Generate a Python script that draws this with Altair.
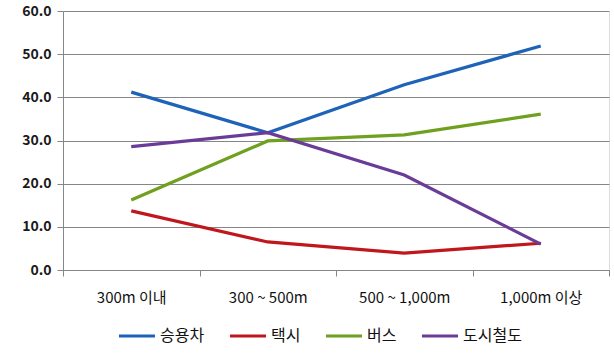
import altair as alt
import pandas as pd

categories = ["300m 이내", "300 ~ 500m", "500 ~ 1,000m", "1,000m 이상"]
series = ["승용차", "택시", "버스", "도시철도"]
car = [41.2, 31.8, 42.9, 51.9]
taxi = [13.7, 6.5, 3.9, 6.2]
bus = [16.2, 29.9, 31.3, 36.1]
rail = [28.6, 31.8, 22.0, 6.0]
colors = ["#1F63B8", "#C0171D", "#6FA01F", "#6A3C98"]

rows = []
for name, vals in zip(series, [car, taxi, bus, rail]):
    for c, v in zip(categories, vals):
        rows.append({"구간": c, "수단": name, "값": v})
df = pd.DataFrame(rows)

font = "Noto Sans CJK KR"

chart = alt.Chart(df).mark_line(strokeWidth=3.2).encode(
    x=alt.X("구간:N", sort=categories, title=None,
            scale=alt.Scale(paddingInner=0, paddingOuter=0),
            axis=alt.Axis(labelAngle=0, tickBand="extent", grid=False,
                          domainColor="#868686", tickColor="#868686",
                          tickSize=6, labelPadding=14, labelFontSize=15,
                          labelFont=font, labelColor="#111111", labelFontWeight="normal")),
    y=alt.Y("값:Q", title=None,
            scale=alt.Scale(domain=[0, 60]),
            axis=alt.Axis(values=[0, 10, 20, 30, 40, 50, 60], format=".1f",
                          gridColor="#868686", gridWidth=1.2, domainColor="#868686",
                          tickColor="#868686", tickSize=6, labelPadding=6,
                          labelFontSize=14, labelFont=font, labelFontWeight="bold",
                          labelColor="#1a1a1a")),
    color=alt.Color("수단:N", sort=series,
                    scale=alt.Scale(domain=series, range=colors),
                    legend=alt.Legend(title=None, orient="none", direction="horizontal",
                                      legendX=54, legendY=305,
                                      symbolType="stroke", symbolSize=1300,
                                      symbolStrokeWidth=3.2, labelFont=font,
                                      labelFontSize=16, labelColor="#111111",
                                      columnPadding=18, labelOffset=3)),
).properties(
    width=546, height=259,
    padding={"left": 63, "top": 11, "right": 5, "bottom": 86},
    autosize=alt.AutoSizeParams(type="none"),
).configure_view(stroke=None).configure(background="white")

chart.save("out.html", embed_options={"renderer": "svg", "actions": False})
